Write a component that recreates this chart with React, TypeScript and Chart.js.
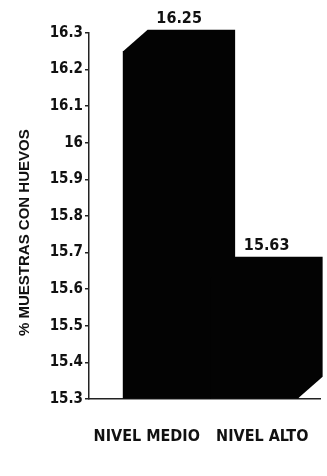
import React, { useEffect, useRef } from "react";
import { Chart, registerables } from "chart.js";

Chart.register(...registerables);

const categories = ["NIVEL MEDIO", "NIVEL ALTO"];
const values = [16.25, 15.63];
const yTicks = [15.3, 15.4, 15.5, 15.6, 15.7, 15.8, 15.9, 16.0, 16.1, 16.2, 16.3];
const yTitle = "% MUESTRAS CON HUEVOS";

const NARROW = "'DejaVu Sans Condensed', 'Liberation Sans', sans-serif";
const SANS = "'Liberation Sans', Arial, sans-serif";

const bar3d = {
  id: "bar3d",
  afterDatasetsDraw(chart: any) {
    const ctx = chart.ctx;
    const meta = chart.getDatasetMeta(0);
    ctx.save();
    meta.data.forEach((el: any, i: number) => {
      const { x, y, base, width } = el.getProps(["x", "y", "base", "width"], true);
      const left = x - width / 2;
      const right = x + width / 2;
      const dx = width * 0.28;
      const dy = dx * 0.88;
      ctx.fillStyle = "#030303";
      ctx.beginPath();
      ctx.moveTo(left, y);
      ctx.lineTo(left + dx, y - dy);
      ctx.lineTo(right + dx, y - dy);
      ctx.lineTo(right + dx, base - dy);
      ctx.lineTo(right, base);
      ctx.lineTo(left, base);
      ctx.closePath();
      ctx.fill();
      ctx.fillStyle = "#111";
      ctx.font = `bold 16px ${NARROW}`;
      ctx.textAlign = "center";
      ctx.textBaseline = "bottom";
      ctx.fillText(values[i].toFixed(2), x + dx / 2, y - dy - 3);
    });
    ctx.restore();
  },
};

export default function App() {
  const ref = useRef<HTMLCanvasElement>(null);
  useEffect(() => {
    document.body.style.margin = "0";
    const chart = new Chart(ref.current as HTMLCanvasElement, {
      type: "bar",
      data: {
        labels: categories,
        datasets: [
          {
            data: values.map((v, i) => ({ x: i, y: v })),
            xAxisID: "xb",
            base: yTicks[0],
            backgroundColor: "#030303",
            borderWidth: 0,
            barPercentage: 1,
            categoryPercentage: 1,
          },
        ],
      },
      options: {
        animation: false,
        responsive: false,
        maintainAspectRatio: false,
        layout: { autoPadding: false, padding: { top: 33, right: 7, left: 0, bottom: 0 } },
        plugins: { legend: { display: false }, tooltip: { enabled: false } },
        scales: {
          xb: {
            type: "linear",
            display: false,
            offset: false,
            grid: { offset: false },
            min: -0.89,
            max: 1.75,
            afterBuildTicks: (s: any) => {
              s.ticks = categories.map((_, i) => ({ value: i }));
            },
          },
          x: {
            type: "category",
            position: "bottom",
            offset: true,
            grid: { display: false, drawTicks: false },
            border: { display: true, color: "#222", width: 1.5 },
            ticks: {
              color: "#111",
              padding: 28,
              maxRotation: 0,
              autoSkip: false,
              font: { family: NARROW, size: 16, weight: "bold" },
            },
            afterFit: (s: any) => {
              s.height = 77;
              s.paddingLeft = 0;
              s.paddingRight = 0;
            },
          },
          y: {
            type: "linear",
            min: 15.3,
            max: 16.3,
            afterBuildTicks: (s: any) => {
              s.ticks = yTicks.map((v) => ({ value: v }));
            },
            grid: { display: true, drawOnChartArea: false, drawTicks: true, tickLength: 4, color: "#222", lineWidth: 1.5 },
            border: { display: true, color: "#222", width: 1.5 },
            ticks: {
              color: "#111",
              padding: 2,
              font: { family: NARROW, size: 15, weight: "bold" },
              callback: (v: any) => String(Number(Number(v).toFixed(1))),
            },
            title: {
              display: true,
              text: yTitle + "\u00a0".repeat(8),
              color: "#111",
              padding: { top: 16, bottom: 0 },
              font: { family: SANS, size: 15, weight: "bold" },
            },
            afterFit: (s: any) => {
              s.width = 89;
            },
          },
        },
      },
      plugins: [bar3d],
    } as any);
    return () => chart.destroy();
  }, []);
  return (
    <div style={{ position: "absolute", left: 0, top: 0, width: 327, height: 476, background: "#fff" }}>
      <canvas ref={ref} width={327} height={476} />
    </div>
  );
}
